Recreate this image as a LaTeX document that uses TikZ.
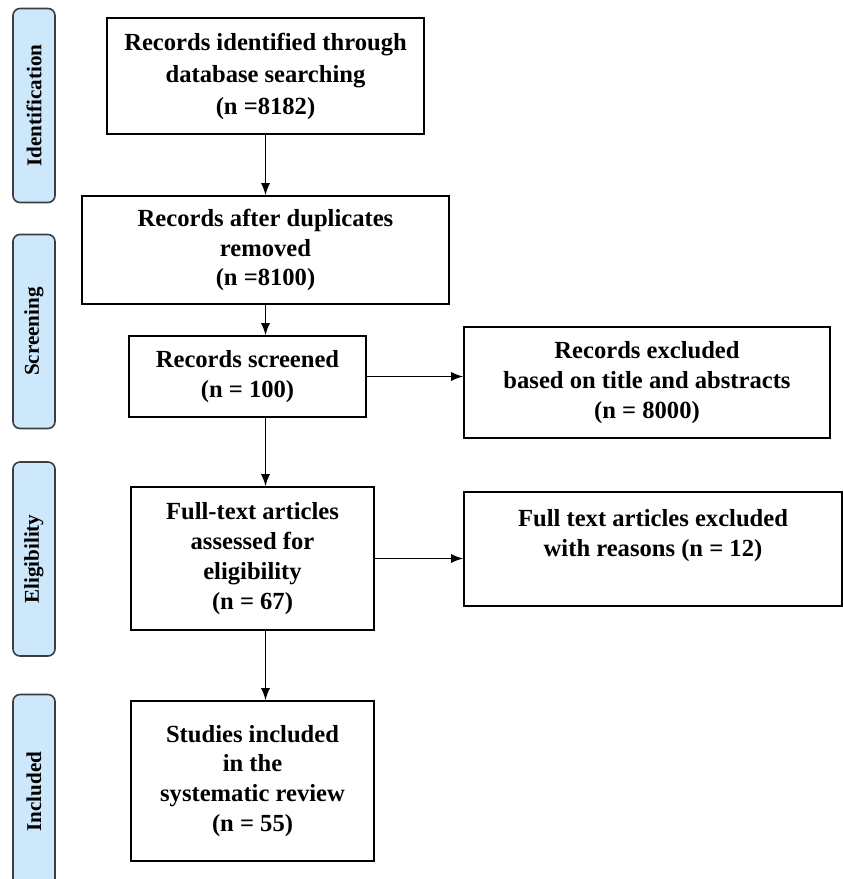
\documentclass[tikz,border=0pt]{standalone}
\usepackage{fontspec}
\setmainfont{Liberation Serif}
\usetikzlibrary{arrows.meta}
\definecolor{stageBlue}{RGB}{204,232,250}
\definecolor{stageGray}{RGB}{60,60,66}

\begin{document}
\begin{tikzpicture}
	\tikzstyle{Box} = [rectangle, text centered, align=center, draw=black, line width=0.9pt, fill=white, font=\fontsize{14}{17}\selectfont\bfseries]
	\tikzstyle{Stage} = [rectangle, rounded corners=0.14cm, minimum width=3.88cm, minimum height=0.84cm, draw=stageGray, fill=stageBlue, line width=0.9pt, rotate=90, font=\fontsize{12}{14}\selectfont\bfseries]
	\tikzstyle{arrow} = [thick,->,>={Latex[length=2.4mm,width=1.8mm]}]
	
	\useasboundingbox (0,0) rectangle (16.86,-17.58);
	\clip (0,0) rectangle (16.86,-17.58);
	
	\node (identification) [Stage] at (0.68,-2.11) {Identification};
	\node (screening) [Stage] at (0.68,-6.63) {Screening};
	\node (eligibility) [Stage] at (0.68,-11.18) {Eligibility};
	\node (included) [Stage] at (0.68,-15.83) {Included};
	
	\node (identified) [Box, minimum width=6.34cm, minimum height=2.32cm, font=\fontsize{14}{18.2}\selectfont\bfseries] at (5.31,-1.52) {Records identified through\\database searching\\(n =8182)};
	\node (duplicates) [Box, minimum width=7.34cm, minimum height=2.16cm] at (5.31,-5.00) {Records after duplicates\\removed\\(n =8100)};
	\node (screened) [Box, minimum width=4.74cm, minimum height=1.62cm] at (4.95,-7.53) {Records screened\\(n = 100)};
	\node (excluded) [Box, minimum width=7.32cm, minimum height=2.22cm] at (12.94,-7.65) {Records excluded\\based on title and abstracts\\(n = 8000)};
	\node (fullText) [Box, minimum width=4.86cm, minimum height=2.86cm] at (5.05,-11.17) {Full-text articles\\assessed for\\eligibility\\(n = 67)};
	\node (fullTextExcluded) [Box, minimum width=7.56cm, minimum height=2.28cm, text depth=18pt] at (13.06,-10.98) {Full text articles excluded\\with reasons (n = 12)};
	\node (studies) [Box, minimum width=4.86cm, minimum height=3.20cm] at (5.05,-15.62) {Studies included\\in the\\systematic review\\(n = 55)};
	
	\draw[arrow] (identified) -- (duplicates);
	\draw[arrow] (duplicates.south) -- (duplicates.south |- screened.north);
	\draw[arrow] (duplicates.south |- screened.south) -- (duplicates.south |- fullText.north);
	\draw[arrow] (duplicates.south |- fullText.south) -- (duplicates.south |- studies.north);
	\draw[arrow] (screened.east) -- (screened.east -| excluded.west);
	\draw[arrow] (fullText.east) -- (fullText.east -| fullTextExcluded.west);
\end{tikzpicture}
\end{document}
